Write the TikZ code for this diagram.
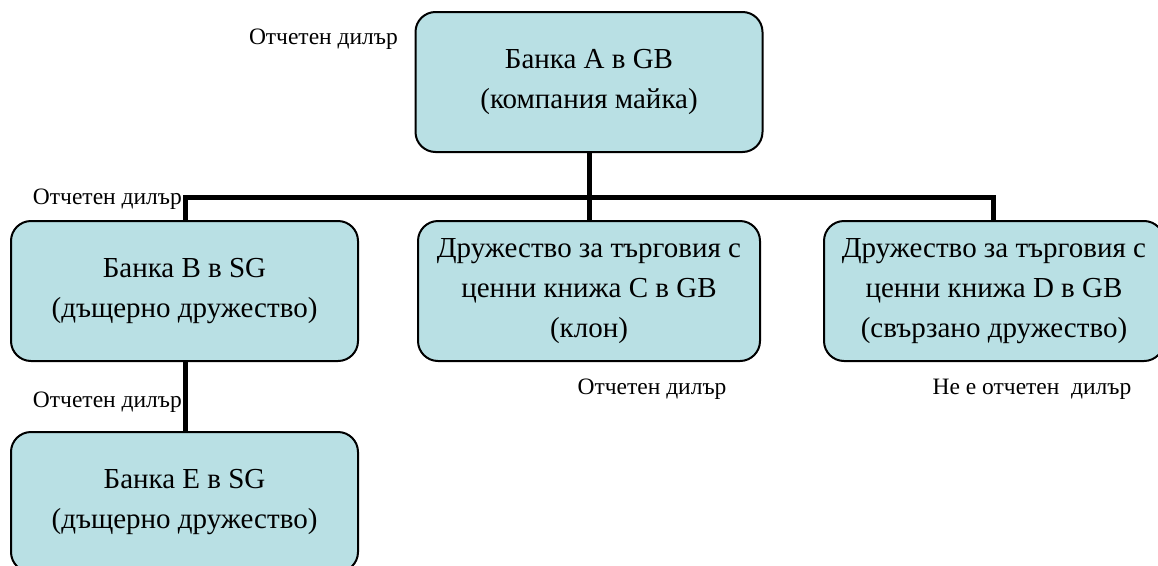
\documentclass[tikz,border=0pt]{standalone}
\usepackage{fontspec}
\setmainfont{Liberation Serif}
\usetikzlibrary{positioning}
\definecolor{paleteal}{RGB}{185,224,228}
\tikzset{
  entity/.style={draw=black, line width=2pt, fill=paleteal, rounded corners=20pt,
    align=center, minimum width=347pt, minimum height=140pt, inner sep=0pt,
    font=\fontsize{29}{40}\selectfont},
  dealer/.style={font=\fontsize{23.5}{27}\selectfont, inner sep=0pt},
  link/.style={line width=5pt}
}

\begin{document}
\begin{tikzpicture}[x=1pt, y=-1pt]
  \useasboundingbox (0,0) rectangle (1158,565);

  % group members
  \node[entity] (bankA) at (589,82) {Банка A в GB\\(компания майка)};
  \node[entity] (bankB) at (184.5,291) {Банка B в SG\\(дъщерно дружество)};
  \node[entity, minimum width=342pt, right=58pt of bankB] (firmC) {Дружество за търговия с\\ценни книжа C в GB\\(клон)};
  \node[entity, minimum width=340pt, right=62pt of firmC] (firmD) {Дружество за търговия с\\ценни книжа D в GB\\(свързано дружество)};
  \node[entity, below=69pt of bankB] (bankE) {Банка E в SG\\(дъщерно дружество)};

  % ownership lines
  \coordinate (busL) at (185,197.5);
  \coordinate (busR) at (993,197.5);
  \draw[link] (bankA.south) -- (firmC.north -| bankA.south);
  \draw[link] (bankB.north -| busL) -- (busL) -- (busR) -- (firmD.north -| busR);
  \draw[link] (bankB.south -| busL) -- (bankE.north -| busL);

  % dealer status
  \node[dealer, anchor=east] (dealerA) at (398,39) {Отчетен дилър};
  \node[dealer, anchor=base east] (dealerB) at ([xshift=-3pt, yshift=-6.5pt]busL) {Отчетен дилър};
  \node[dealer] (dealerC) at (652,389) {Отчетен дилър};
  \node[dealer] (dealerD) at (1032,389) {Не е отчетен\ \ дилър};
  \node[dealer, anchor=base east] (dealerE) at (182,407) {Отчетен дилър};
\end{tikzpicture}
\end{document}
